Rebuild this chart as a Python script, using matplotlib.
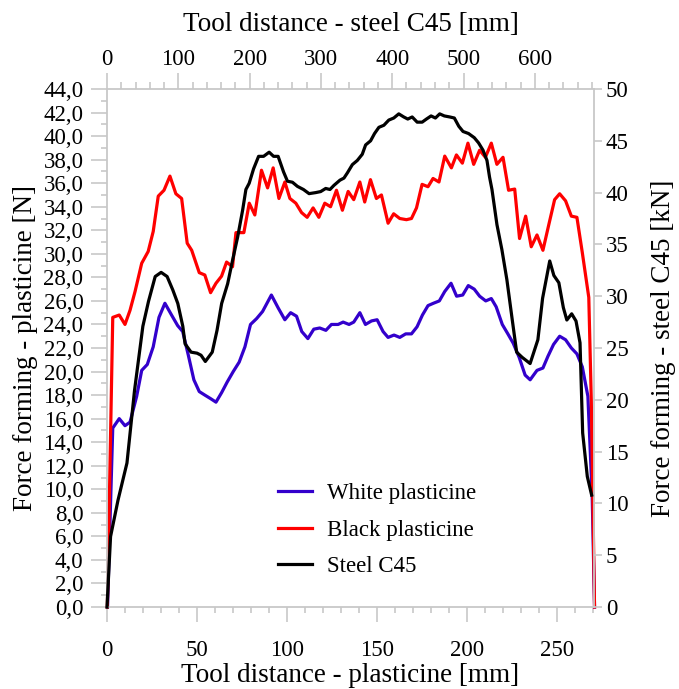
import matplotlib
matplotlib.use("Agg")
import matplotlib.pyplot as plt
from matplotlib.ticker import MultipleLocator, FuncFormatter

plt.rcParams['font.family'] = ['Liberation Serif', 'DejaVu Serif']

# ---- data ----
# White plasticine (bottom x [mm], left y [N])
white_x = [0.3, 3.2, 6.8, 10.0, 12.8, 16.5, 19.3, 22.4, 25.7, 28.9, 32.2, 35.9, 39.3, 42.1, 45.2,
           48.3, 51.3, 54.4, 57.6, 60.6, 63.7, 66.8, 70.2, 73.5, 76.7, 79.8, 83.2, 86.5, 91.4, 95.2,
           98.9, 102.1, 105.4, 108.3, 111.7, 115.0, 118.3, 121.7, 124.8, 128.5, 131.3, 134.6, 137.2,
           140.6, 143.7, 147.1, 150.2, 153.5, 156.3, 159.6, 162.8, 166.1, 169.3, 172.4, 175.4, 178.5,
           181.5, 184.8, 187.8, 191.3, 194.4, 197.8, 200.9, 204.2, 207.2, 210.6, 213.7, 216.4, 219.8,
           222.9, 225.9, 229.2, 232.5, 235.3, 239.1, 242.4, 245.2, 248.3, 251.7, 255.0, 258.2, 261.3,
           264.3, 267.4, 269.8, 271.1]
white_y = [0.0, 15.2, 16.0, 15.4, 15.7, 17.9, 20.1, 20.6, 22.1, 24.6, 25.8, 24.8, 23.9, 23.4, 21.4,
           19.3, 18.3, 18.0, 17.7, 17.4, 18.2, 19.1, 20.0, 20.8, 22.1, 24.0, 24.5, 25.1, 26.5, 25.4,
           24.4, 25.0, 24.7, 23.4, 22.8, 23.6, 23.7, 23.5, 24.0, 24.0, 24.2, 24.0, 24.2,
           25.0, 24.0, 24.3, 24.4, 23.4, 22.9, 23.1, 22.9, 23.2, 23.2, 23.8, 24.8, 25.6,
           25.8, 26.0, 26.8, 27.5, 26.4, 26.5, 27.3, 27.0, 26.4, 26.0, 26.2, 25.5, 24.0,
           23.2, 22.4, 21.2, 19.7, 19.3, 20.1, 20.3, 21.3, 22.3, 23.0, 22.7, 22.0, 21.5,
           20.4, 17.9, 9.4, 0.0]

# Black plasticine (bottom x [mm], left y [N])
black_x = [0.2, 3.2, 6.8, 10.0, 12.8, 15.6, 19.3, 22.9, 25.7, 28.5, 31.7, 35.0, 38.3, 41.5, 44.6,
           47.1, 51.3, 54.4, 57.6, 60.6, 63.7, 66.5, 69.8, 71.7, 76.1, 79.1, 82.2, 85.9, 89.3, 92.4,
           95.6, 98.9, 101.7, 105.0, 108.2, 111.3, 114.6, 117.8, 121.1, 124.3, 127.6, 130.9, 134.1,
           137.2, 140.6, 143.3, 146.5, 149.8, 152.6, 156.3, 159.4, 162.8, 166.5, 169.3, 172.1, 175.2,
           178.5, 181.3, 184.6, 187.8, 191.5, 194.3, 197.6, 200.7, 203.9, 207.2, 210.4, 213.7, 216.8,
           220.2, 223.3, 226.7, 229.4, 232.8, 235.9, 239.1, 242.4, 245.7, 248.9, 251.7, 255.0, 258.2,
           261.3, 264.3, 267.9, 269.3, 271.1]
black_y = [0.0, 24.6, 24.8, 24.0, 25.2, 26.8, 29.2, 30.2, 31.9, 34.9, 35.4, 36.6, 35.1, 34.7, 30.9,
           30.3, 28.4, 28.2, 26.7, 27.5, 28.1, 29.3, 28.9, 31.8, 31.8, 34.3, 33.3, 37.1, 35.6, 37.3,
           34.7, 36.1, 34.7, 34.3, 33.5, 33.1, 33.9, 33.1, 34.3, 34.0, 35.4, 33.7, 35.3,
           34.6, 36.1, 34.4, 36.3, 34.7, 35.0, 32.6, 33.4, 33.0, 32.9, 33.0, 33.9, 35.9,
           35.7, 36.4, 36.1, 38.3, 37.3, 38.4, 37.7, 39.4, 37.6, 38.8, 38.2, 39.4, 37.6,
           38.2, 35.4, 35.5, 31.3, 33.2, 30.6, 31.6, 30.3, 32.5, 34.6, 35.1, 34.5, 33.2,
           33.1, 30.1, 26.3, 17.5, 0.0]

# Steel C45 (top x [mm], right y [kN])
steel_x = [0, 5, 15.4, 28.0, 38.6, 50.3, 58.2, 67.6, 75.9, 84.3, 92.3, 99.3, 106.3, 109.5, 117.9,
           126.3, 131.9, 137.9, 147.6, 154.3, 160.8, 169.2, 176.2, 183.2, 190.2, 194.8, 199.4, 205.6,
           212.6, 219.6, 227.4, 233.6, 240.0, 247.6, 253.1, 260.1, 267.1, 275.5, 283.4, 292.7, 299.7,
           306.7, 312.7, 318.3, 326.7, 332.3, 337.1, 344.1, 351.0, 358.0, 362.7, 369.7, 375.2, 381.3,
           388.3, 395.2, 402.2, 409.2, 416.2, 421.8, 428.0, 435.0, 442.0, 448.0, 454.5, 460.6, 466.6,
           473.1, 480.8, 487.1, 493.4, 499.3, 507.1, 515.1, 521.1, 527.3, 532.9, 536.5, 539.9, 546.9,
           553.8, 560.8, 567.8, 574.5, 582.2, 593.4, 604.3, 610.9, 620.9, 626.7, 633.7, 640.0, 644.9,
           651.7, 657.8, 663.4, 667.1, 673.6, 679.7]
steel_y = [0.0, 6.8, 10.3, 13.9, 20.9, 27.1, 29.5, 31.9, 32.3, 31.9, 30.6, 29.3, 27.1, 25.4, 24.6,
           24.5, 24.3, 23.7, 24.6, 26.7, 29.3, 31.2, 33.5, 35.7, 38.3, 40.3, 40.9, 42.3,
           43.5, 43.5, 43.9, 43.5, 43.5, 42.0, 41.1, 41.0, 40.6, 40.3, 39.9, 40.0, 40.1,
           40.4, 40.3, 40.7, 41.2, 41.4, 41.9, 42.7, 43.1, 43.7, 44.6, 45.0, 45.7, 46.3,
           46.5, 47.0, 47.2, 47.6, 47.3, 47.1, 47.3, 46.8, 46.8, 47.1, 47.4, 47.2, 47.6,
           47.4, 47.3, 47.2, 46.4, 45.9, 45.7, 45.3, 44.8, 44.1, 43.1, 41.5, 40.3, 36.9,
           34.5, 31.6, 28.0, 24.6, 24.1, 23.5, 25.8, 29.8, 33.4, 32.0, 31.3, 28.9, 27.7,
           28.3, 27.6, 25.5, 16.8, 12.6, 10.8]

labels = ["White plasticine", "Black plasticine", "Steel C45"]
colors = ["#3300CC", "#FF0000", "#000000"]

# ---- figure ----
W, H = 679, 689
fig = plt.figure(figsize=(W / 100, H / 100), dpi=100)
L, R, T, B = 107, 594, 89, 607
rect = [L / W, 1 - B / H, (R - L) / W, (B - T) / H]

grey = "#c8c8c8"
ax = fig.add_axes(rect)
ax2 = fig.add_axes(rect, frameon=False)
ax2.patch.set_visible(False)

lw = 2.3
l1, = ax.plot(white_x, white_y, color=colors[0], lw=lw, label=labels[0], clip_on=False)
l2, = ax.plot(black_x, black_y, color=colors[1], lw=lw, label=labels[1], clip_on=False)
l3, = ax2.plot(steel_x, steel_y, color=colors[2], lw=lw, label=labels[2], clip_on=False)

ax.set_xlim(0, 270.8)
ax.set_ylim(0, 44)
ax2.set_xlim(0, 683)
ax2.set_ylim(0, 50)

for s in ax.spines.values():
    s.set_color(grey)
    s.set_linewidth(1.3)

fs_tick = 16.5
fs_lab = 19.5

ax.xaxis.set_major_locator(MultipleLocator(50))
ax.xaxis.set_minor_locator(MultipleLocator(10))
ax.yaxis.set_major_locator(MultipleLocator(2))
ax.yaxis.set_minor_locator(MultipleLocator(1))
ax.yaxis.set_major_formatter(FuncFormatter(lambda v, p: f"{v:.1f}".replace(".", ",")))
ax.tick_params(axis="both", which="both", direction="out", color=grey, width=1.2,
               top=False, right=False, labelsize=fs_tick)
ax.tick_params(axis="y", which="major", length=11.5, pad=5.5)
ax.tick_params(axis="y", which="minor", length=4.3)
ax.tick_params(axis="x", which="major", length=11, pad=13)
ax.tick_params(axis="x", which="minor", length=4.3)

ax2.xaxis.tick_top()
ax2.xaxis.set_label_position("top")
ax2.yaxis.tick_right()
ax2.yaxis.set_label_position("right")
ax2.xaxis.set_major_locator(MultipleLocator(100))
ax2.xaxis.set_minor_locator(MultipleLocator(20))
ax2.yaxis.set_major_locator(MultipleLocator(5))
ax2.tick_params(axis="both", which="both", direction="out", color=grey, width=1.2,
                labelsize=fs_tick, bottom=False, left=False)
ax2.tick_params(axis="x", which="major", length=11.5, pad=2)
ax2.tick_params(axis="x", which="minor", length=5)
ax2.tick_params(axis="y", which="major", length=6, pad=2.5)

ax.set_xlabel("Tool distance - plasticine [mm]", fontsize=fs_lab, labelpad=1)
ax.set_ylabel("Force forming - plasticine [N]", fontsize=fs_lab, labelpad=4)
ax2.set_xlabel("Tool distance - steel C45 [mm]", fontsize=fs_lab, labelpad=13)
ax2.set_ylabel("Force forming - steel C45 [kN]", fontsize=fs_lab, labelpad=16)

fig.legend([l1, l2, l3], labels, loc="upper left", bbox_to_anchor=(278 / W, 1 - 483 / H),
           frameon=False, fontsize=16.5, handlelength=1.5, handletextpad=0.65,
           labelspacing=0.68, borderpad=0, borderaxespad=0)

fig.savefig("out.png", dpi=100)
